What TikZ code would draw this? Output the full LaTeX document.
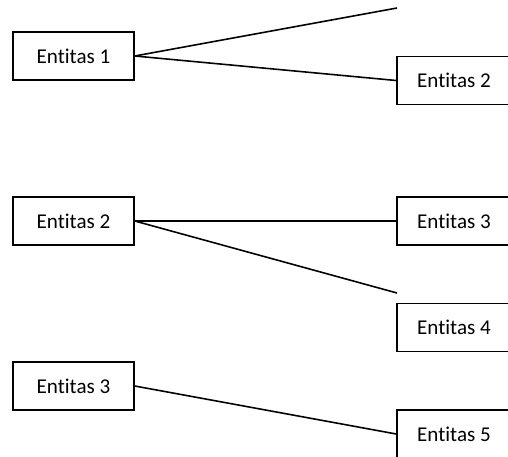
\documentclass[tikz,border=0pt]{standalone}
\usepackage{fontspec}
\setmainfont[Ligatures=NoCommon]{Carlito}
\usepackage{tikz}

\begin{document}
\begin{tikzpicture}[x=0.02cm,y=-0.02cm,
    ent/.style={draw,line width=0.9pt,minimum height=0.96cm,inner sep=0pt,
        font=\fontsize{12}{14}\selectfont},
    entl/.style={ent,minimum width=2.42cm},
    entr/.style={ent,minimum width=2.28cm}]
    \useasboundingbox(0,0) rectangle (508,457);
    \clip(0,0) rectangle (508,457);
    % left column
    \node[entl] at(73.5,56)(l1){Entitas 1};
    \node[entl] at(73.5,221)(l2){Entitas 2};
    \node[entl] at(73.5,386)(l3){Entitas 3};
    % right column
    \node[entr] at(454,80.5)(r2){Entitas 2};
    \node[entr] at(454,221)(r3){Entitas 3};
    \node[entr] at(454,327.5)(r4){Entitas 4};
    \node[entr] at(454,434)(r5){Entitas 5};
    \coordinate(f1) at(397,8);
    \coordinate(f2) at(397,293);
    \foreach\a/\b in{l1.east/f1,l1.east/r2.west,l2.east/r3.west,l2.east/f2,l3.east/r5.west}{
        \draw[line width=0.9pt](\a) -- (\b);
    }
\end{tikzpicture}
\end{document}
